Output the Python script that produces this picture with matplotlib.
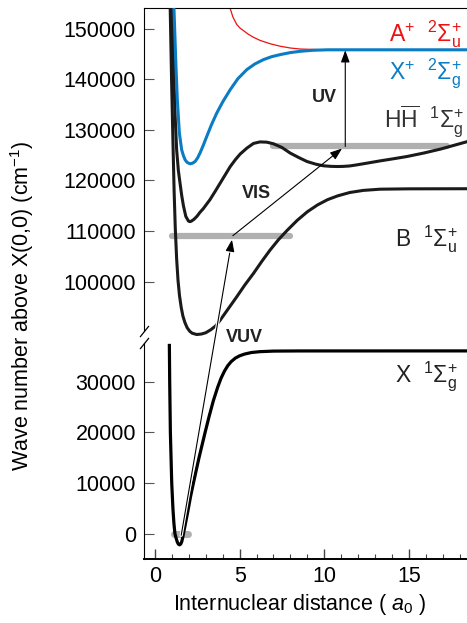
import matplotlib
matplotlib.use("Agg")
import matplotlib.pyplot as plt
import matplotlib.patheffects as pe
from matplotlib.patches import ConnectionPatch
from matplotlib.ticker import MultipleLocator

plt.rcParams['font.family'] = ['Liberation Sans', 'DejaVu Sans']
plt.rcParams['mathtext.fontset'] = 'custom'
plt.rcParams['mathtext.rm'] = 'Liberation Sans'
plt.rcParams['mathtext.it'] = 'Liberation Sans:italic'
plt.rcParams['mathtext.bf'] = 'Liberation Sans:bold'
plt.rcParams['mathtext.sf'] = 'Liberation Sans'

# potential curves: R in a0, E in cm-1 above X(0,0)
x_r = [0.85, 0.87, 0.91, 0.99, 1.06, 1.12, 1.18, 1.25, 1.32, 1.38, 1.45, 1.52, 1.58,
       1.63, 1.68, 1.8, 1.95, 2.1, 2.27, 2.6, 2.96, 3.2, 3.45, 3.7, 3.9, 4.1, 4.3,
       4.5, 4.75, 5.0, 5.3, 5.7, 6.2, 7.0, 8.5, 18.6]
x_e = [37200, 30000, 20000, 10000, 5000, 2000, 0, -900, -1650, -2050, -2200, -2050,
       -1600, -900, 0, 2000, 4600, 7300, 10000, 15000, 20000, 23200, 26300, 28900,
       30700, 32100, 33200, 34000, 34700, 35150, 35500, 35800, 35970, 36080, 36110,
       36118]

b_r = [0.9, 0.98, 1.06, 1.13, 1.2, 1.28, 1.36, 1.45, 1.55, 1.65, 1.77, 1.9, 2.05, 2.2,
       2.47, 2.75, 3.0, 3.3, 3.6, 3.85, 4.3, 4.83, 5.3, 5.82, 6.3, 6.8, 7.3, 7.8, 8.4,
       9.0, 9.6, 10.2, 10.8, 11.5, 12.3, 13.3, 15.0, 18.6]
b_e = [154000, 140000, 128000, 118000, 110500, 104500, 100300, 97200, 94900, 93200,
       91900, 90900, 90200, 89800, 89550, 89650, 89900, 90500, 91300, 92380, 94500,
       97000, 99300, 101630, 103950, 106240, 108300, 110100, 112100, 113800, 115150,
       116200, 116950, 117600, 118020, 118260, 118330, 118350]

hh_r = [1.02, 1.1, 1.2, 1.28, 1.38, 1.48, 1.58, 1.68, 1.82, 1.98, 2.07, 2.15, 2.3, 2.48,
        2.66, 2.85, 3.05, 3.25, 3.55, 3.85, 4.15, 4.44, 4.75, 5.03, 5.43, 5.82, 6.2,
        6.6, 7.0, 7.5, 7.99, 8.5, 8.98, 9.5, 9.96, 10.4, 10.75, 11.1, 11.5, 11.93,
        12.6, 13.31, 14.1, 14.89, 15.9, 16.86, 18.6]
hh_e = [154000, 142000, 132000, 126040, 122000, 119450, 117000, 115000, 112900, 111950,
        111850, 111950, 112300, 112900, 113700, 114400, 115300, 116200, 117800, 119450,
        121100, 122700, 124100, 125200, 126380, 127300, 127600, 127550, 127230, 126500,
        125390, 124500, 123730, 123200, 122880, 122770, 122740, 122760, 122850, 123070,
        123450, 123860, 124280, 124720, 125420, 126180, 127800]

xp_r = [1.12, 1.24, 1.32, 1.44, 1.52, 1.58, 1.68, 1.78, 1.9, 2.07, 2.22, 2.37, 2.52,
        2.66, 2.85, 3.06, 3.35, 3.65, 4.0, 4.44, 4.9, 5.43, 5.9, 6.41, 6.9, 7.4, 8.0,
        8.58, 9.3, 10.2, 18.6]
xp_e = [154100, 142540, 135940, 129400, 127400, 126000, 124900, 124060, 123550, 123270,
        123400, 123730, 124450, 125400, 126900, 128700, 131100, 133300, 135500, 137900,
        140100, 141900, 143000, 143860, 144450, 144850, 145250, 145500, 145700, 145800,
        145800]

ap_r = [4.35, 4.44, 4.6, 4.83, 5.02, 5.22, 5.5, 5.8, 6.21, 6.8, 7.4, 8.0, 8.58, 9.57,
        10.5]
ap_e = [156000, 154000, 152300, 150800, 150100, 149600, 148900, 148300, 147650, 147000,
        146500, 146150, 145950, 145850, 145800]

# vibrational levels (grey bars)
lev_x0 = [1.1, 1.95]
lev_b = [0.99, 8.0]
lev_hh = [7.0, 17.26]
lev_e = [0, 109070, 126700]

top_ticks = [100000, 110000, 120000, 130000, 140000, 150000]
bot_ticks = [0, 10000, 20000, 30000]
x_ticks = [0, 5, 10, 15]

fontsize = 15.5
black = '#1a1a1a'
blue = '#0a7cc4'
red = '#ee1111'
grey = '#b0b0b0'

fig = plt.figure(figsize=(4.67, 6.23), dpi=100)
ax_top = fig.add_axes([0.309, 0.4586, 0.691, 0.5281])
ax_bot = fig.add_axes([0.309, 0.1027, 0.691, 0.3469])

for ax in (ax_top, ax_bot):
    ax.set_xlim(-0.63, 18.43)
    ax.spines['right'].set_visible(False)
    ax.tick_params(axis='y', direction='in', length=7.5, width=0.8, color='#555555',
                   labelsize=fontsize, pad=6)

ax_top.set_ylim(89000, 154000)
ax_bot.set_ylim(-5000, 37700)

ax_top.spines['bottom'].set_visible(False)
ax_top.spines['left'].set_bounds(90300, 154000)
ax_top.tick_params(axis='x', bottom=False, labelbottom=False)
ax_bot.spines['top'].set_visible(False)
ax_bot.spines['bottom'].set_linewidth(1.4)

ax_top.set_yticks(top_ticks)
ax_top.set_yticklabels([str(t) for t in top_ticks])
ax_bot.set_yticks(bot_ticks)
ax_bot.set_yticklabels([str(t) for t in bot_ticks])
ax_bot.set_xticks(x_ticks)
ax_bot.set_xticklabels([str(t) for t in x_ticks])
ax_bot.xaxis.set_minor_locator(MultipleLocator(1))
ax_bot.tick_params(axis='x', which='major', direction='in', length=7, width=1,
                   color='#444444', labelsize=fontsize, pad=5)
ax_bot.tick_params(axis='x', which='minor', direction='in', length=3.5, width=0.8,
                   color='#444444')

# break marks on the y axis
ax_top.plot([-0.63], [90300], marker=[(-0.8, -1), (0.8, 1)], ms=8, mew=0.9,
            color='k', linestyle='none', clip_on=False)
ax_bot.plot([-0.63], [37700], marker=[(-0.8, -1), (0.8, 1)], ms=8, mew=0.9,
            color='k', linestyle='none', clip_on=False)

# grey levels
ax_bot.plot(lev_x0, [lev_e[0]] * 2, color=grey, lw=5, solid_capstyle='round', zorder=1)
ax_top.plot(lev_b, [lev_e[1]] * 2, color=grey, lw=4.5, solid_capstyle='round', zorder=1)
ax_top.plot(lev_hh, [lev_e[2]] * 2, color=grey, lw=4.5, solid_capstyle='round', zorder=1)

# curves
ax_bot.plot(x_r, x_e, color='k', lw=2.3, zorder=3, solid_joinstyle='round')
ax_top.plot(b_r, b_e, color=black, lw=2.2, zorder=3, solid_joinstyle='round')
ax_top.plot(hh_r, hh_e, color=black, lw=2.2, zorder=3, solid_joinstyle='round')
ax_top.plot(ap_r, ap_e, color=red, lw=0.9, zorder=2)
ax_top.plot(xp_r, xp_e, color=blue, lw=2.2, zorder=3, solid_joinstyle='round')

# transitions
arrow = dict(arrowstyle='-|>,head_length=0.6,head_width=0.22', lw=0.8, color='k',
             shrinkA=0, shrinkB=0, mutation_scale=12)
con = ConnectionPatch(xyA=(1.55, -300), coordsA=ax_bot.transData,
                      xyB=(4.55, 108300), coordsB=ax_top.transData, **arrow)
con.set_path_effects([pe.Stroke(linewidth=2.4, foreground='white'), pe.Normal()])
fig.add_artist(con)
ax_top.annotate('', xy=(11.05, 126300), xytext=(4.6, 109070), arrowprops=arrow, zorder=5)
ax_top.annotate('', xy=(11.24, 145700), xytext=(11.24, 126700), arrowprops=arrow, zorder=5)

ax_top.text(5.27, 88900, 'VUV', fontsize=13, fontweight='bold', color='#222222',
            ha='center', va='center')
ax_top.text(6.02, 117330, 'VIS', fontsize=13, fontweight='bold', color='#222222',
            ha='center', va='center')
ax_top.text(10.03, 136340, 'UV', fontsize=13, fontweight='bold', color='#222222',
            ha='center', va='center')

# state labels
ax_top.text(18.1, 147500, r'A$^{+}$  $^{2}\Sigma_{\mathrm{u}}^{+}$', color=red,
            fontsize=16.5, ha='right', va='baseline')
ax_top.text(18.1, 139900, r'X$^{+}$  $^{2}\Sigma_{\mathrm{g}}^{+}$', color=blue,
            fontsize=16.5, ha='right', va='baseline')
ax_top.text(18.3, 130400, r'$\mathrm{H\overline{H}}$  $^{1}\Sigma_{\mathrm{g}}^{+}$',
            color='#333333', fontsize=16.5, ha='right', va='baseline')
ax_top.text(17.9, 106900, r'B  $^{1}\Sigma_{\mathrm{u}}^{+}$', color='#222222',
            fontsize=16.5, ha='right', va='baseline')
ax_bot.text(17.9, 29900, r'X  $^{1}\Sigma_{\mathrm{g}}^{+}$', color='#222222',
            fontsize=16.5, ha='right', va='baseline')

fig.text(0.047, 0.509, r'Wave number above X(0,0) (cm$^{-1}$)', rotation=90,
         fontsize=fontsize, ha='center', va='center')
fig.text(0.642, 0.029, r'Internuclear distance ( $\mathit{a}_{\mathit{0}}$ )',
         fontsize=fontsize, ha='center', va='center')

fig.savefig('out.png', dpi=100)
